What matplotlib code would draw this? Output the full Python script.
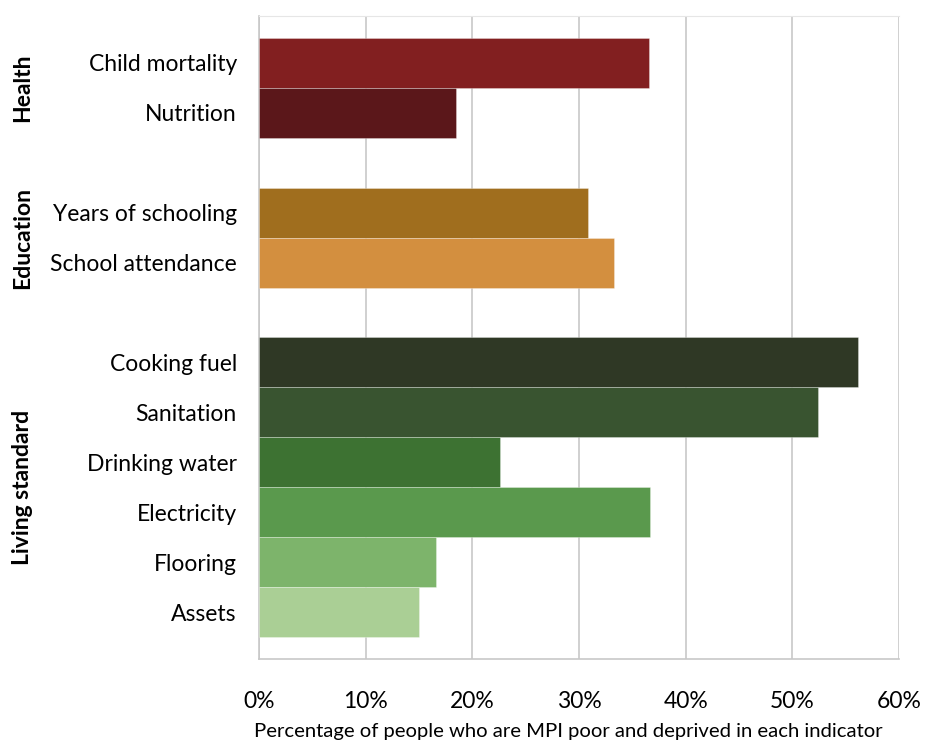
import matplotlib.pyplot as plt
from matplotlib.ticker import FuncFormatter

# indicator groups
groups = ["Health", "Education", "Living standard"]
group_sizes = [2, 2, 6]
indicators = ["Child mortality", "Nutrition",
              "Years of schooling", "School attendance",
              "Cooking fuel", "Sanitation", "Drinking water",
              "Electricity", "Flooring", "Assets"]
values = [36.6, 18.5, 30.8, 33.3, 56.2, 52.4, 22.6, 36.7, 16.6, 15.0]
colors = ["#821f20", "#5b171a", "#a06e1e", "#d38f3f",
          "#2f3825", "#395430", "#3d7232", "#5a994d", "#7db46b", "#aacf95"]

plt.rcParams['font.family'] = ['Lato', 'DejaVu Sans']

# positions: one empty slot between groups
pos = []
start = 0
centers = []
for n in group_sizes:
    pos += list(range(start, start + n))
    centers.append(start + (n - 1) / 2)
    start += n + 1

fig = plt.figure(figsize=(9.27, 7.42), dpi=100)
ax = fig.add_axes([0.2794, 0.1119, 0.6904, 0.8665])

ax.barh(pos, values, height=1.0, color=colors,
        edgecolor=(1, 1, 1, 0.35), linewidth=0.6, zorder=3)

ax.set_xlim(0, 60)
ax.set_ylim(pos[-1] + 0.5 + 0.44, -0.5 - 0.44)
ax.set_xticks(range(0, 61, 10))
ax.xaxis.set_major_formatter(FuncFormatter(lambda v, p: f"{int(v)}%"))
ax.grid(axis='x', color='#c8c8c8', linewidth=1.2, zorder=0)
ax.tick_params(axis='x', length=0, pad=23, labelsize=16.5)
ax.tick_params(axis='y', length=0, pad=16, labelsize=16.5)
ax.set_yticks(pos)
ax.set_yticklabels(indicators)

ax.spines['top'].set_color('#e6e6e6')
ax.spines['right'].set_visible(False)
ax.spines['left'].set_color('#c8c8c8')
ax.spines['bottom'].set_color('#c8c8c8')
ax.spines['left'].set_linewidth(1.2)
ax.spines['bottom'].set_linewidth(1.2)

ax.set_xlabel("Percentage of people who are MPI poor and deprived in each indicator",
              fontsize=14.6, labelpad=8)
ax.xaxis.label.set_x(0.483)

for g, c in zip(groups, centers):
    ax.text(-0.37, c, g, transform=ax.get_yaxis_transform(),
            rotation=90, ha='center', va='center',
            fontsize=16.5, fontweight='bold')

fig.savefig("out.png", dpi=100)
